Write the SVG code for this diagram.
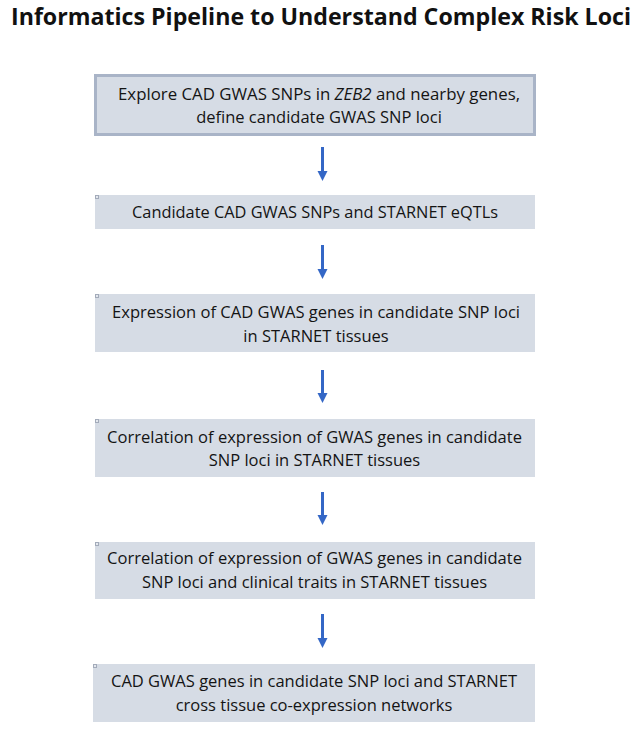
<svg xmlns="http://www.w3.org/2000/svg" width="640" height="729" viewBox="0 0 640 729">
<defs>
<style>
.box{fill:#d6dce5;}
.b1{stroke:#a9b4c7;stroke-width:3;}
.t{font-family:"Open Sans","Liberation Sans",sans-serif;font-size:16.5px;fill:#141414;text-anchor:middle;}
.title{font-family:"Open Sans","Liberation Sans",sans-serif;font-size:23px;font-weight:bold;fill:#111;text-anchor:middle;}
.sq{fill:#e4e8ee;stroke:#a3abba;stroke-width:1;}
.arr{stroke:#3467c6;stroke-width:3;fill:none;}
.head{fill:#3467c6;}
</style>
</defs>
<rect width="640" height="729" fill="#ffffff"/>
<text class="title" x="321" y="25" textLength="620" lengthAdjust="spacingAndGlyphs">Informatics Pipeline to Understand Complex Risk Loci</text>

<g id="node1">
<rect class="box b1" x="95.5" y="75.5" width="439" height="59"/>
<text class="t" x="319" y="100" textLength="402" lengthAdjust="spacingAndGlyphs">Explore CAD GWAS SNPs in <tspan font-style="italic">ZEB2</tspan> and nearby genes,</text>
<text class="t" x="319" y="123">define candidate GWAS SNP loci</text>
</g>

<g id="node2">
<rect class="box" x="95" y="195" width="440" height="34"/>
<rect class="sq" x="95.5" y="195.5" width="3" height="3"/>
<text class="t" x="315" y="218" textLength="366" lengthAdjust="spacingAndGlyphs">Candidate CAD GWAS SNPs and STARNET eQTLs</text>
</g>

<g id="node3">
<rect class="box" x="95" y="294" width="440" height="58"/>
<rect class="sq" x="95.5" y="294.5" width="3" height="3"/>
<text class="t" x="316" y="318" textLength="408" lengthAdjust="spacingAndGlyphs">Expression of CAD GWAS genes in candidate SNP loci</text>
<text class="t" x="316" y="342">in STARNET tissues</text>
</g>

<g id="node4">
<rect class="box" x="95" y="419" width="440" height="58"/>
<rect class="sq" x="95.5" y="419.5" width="3" height="3"/>
<text class="t" x="314.5" y="443" textLength="415" lengthAdjust="spacingAndGlyphs">Correlation of expression of GWAS genes in candidate</text>
<text class="t" x="314.5" y="466">SNP loci in STARNET tissues</text>
</g>

<g id="node5">
<rect class="box" x="95" y="542" width="440" height="57"/>
<rect class="sq" x="95.5" y="542.5" width="3" height="3"/>
<text class="t" x="314.5" y="564" textLength="415" lengthAdjust="spacingAndGlyphs">Correlation of expression of GWAS genes in candidate</text>
<text class="t" x="314.5" y="588">SNP loci and clinical traits in STARNET tissues</text>
</g>

<g id="node6">
<rect class="box" x="93" y="664" width="442" height="58"/>
<rect class="sq" x="93.5" y="664.5" width="3" height="3"/>
<text class="t" x="314" y="687" textLength="406" lengthAdjust="spacingAndGlyphs">CAD GWAS genes in candidate SNP loci and STARNET</text>
<text class="t" x="314" y="711">cross tissue co-expression networks</text>
</g>

<g id="connectors">
<line class="arr" x1="322.5" y1="147" x2="322.5" y2="172"/>
<polygon class="head" points="317.5,171 327.5,171 322.5,181"/>
<line class="arr" x1="322.5" y1="245" x2="322.5" y2="270"/>
<polygon class="head" points="317.5,269 327.5,269 322.5,279"/>
<line class="arr" x1="322.5" y1="370" x2="322.5" y2="394"/>
<polygon class="head" points="317.5,393 327.5,393 322.5,403"/>
<line class="arr" x1="322.5" y1="492" x2="322.5" y2="516"/>
<polygon class="head" points="317.5,515 327.5,515 322.5,525"/>
<line class="arr" x1="322.5" y1="614" x2="322.5" y2="639"/>
<polygon class="head" points="317.5,638 327.5,638 322.5,648"/>
</g>
</svg>
